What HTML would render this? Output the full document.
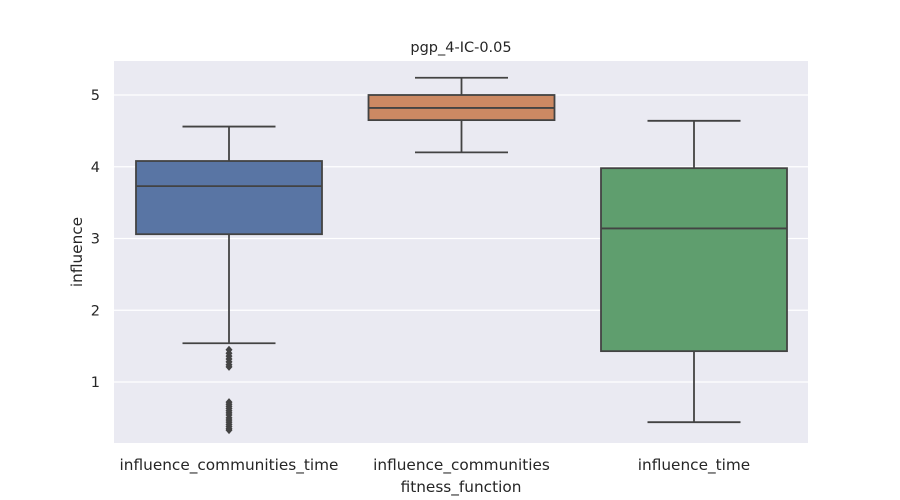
<!DOCTYPE html>
<html><head><meta charset="utf-8"><style>
body{margin:0;background:#fff;font-family:"DejaVu Sans","Liberation Sans",sans-serif;}
</style></head><body>
<svg id="chart" width="900" height="500" style="display:block;font-family:'DejaVu Sans','Liberation Sans',sans-serif">
<rect x="0" y="0" width="900" height="500" fill="#fff"/>
</svg>
<script>
const categories = ["influence_communities_time","influence_communities","influence_time"];
const whiskerLow = [1.54, 4.2, 0.44];
const q1 = [3.06, 4.65, 1.43];
const medians = [3.73, 4.82, 3.14];
const q3 = [4.08, 5.0, 3.98];
const whiskerHigh = [4.56, 5.24, 4.64];
const outliers = [[1.45,1.4,1.36,1.32,1.28,1.24,1.21,0.72,0.69,0.66,0.63,0.6,0.57,0.54,0.5,0.47,0.44,0.41,0.38,0.35,0.33],[],[]];
const yTicks = [1,2,3,4,5];
const colors = ["#5975a4","#cc8963","#5f9e6e"];

const NS="http://www.w3.org/2000/svg";
const svg=document.getElementById('chart');
const L=114,R=808,T=61,B=443;
function y(v){return 453.75-v*71.75;}
function x(i){return 229+232.5*i;}
function mk(t,a,p){const e=document.createElementNS(NS,t);for(const k in a)e.setAttribute(k,a[k]);(p||svg).appendChild(e);return e;}
const bg=mk('rect',{x:L,y:T,width:R-L,height:B-T,fill:'#eaeaf2'});


yTicks.forEach(t=>{
 const g=mk('line',{x1:L,x2:R,y1:y(t),y2:y(t),stroke:'#fff','stroke-width':1.2});
 
 
 const tx=mk('text',{x:L-14,y:y(t)+5,'text-anchor':'end','font-size':14.5,fill:'#262626'});
 tx.textContent=t;
 
 
});
const bw=186;
const lc='#434343';
categories.forEach((c,i)=>{
 const cx=x(i);
 const g=mk('g',{});
 
 
 mk('line',{x1:cx,x2:cx,y1:y(whiskerHigh[i]),y2:y(q3[i]),stroke:lc,'stroke-width':1.8},g);
 mk('line',{x1:cx,x2:cx,y1:y(q1[i]),y2:y(whiskerLow[i]),stroke:lc,'stroke-width':1.8},g);
 mk('line',{x1:cx-bw/4,x2:cx+bw/4,y1:y(whiskerHigh[i]),y2:y(whiskerHigh[i]),stroke:lc,'stroke-width':1.8},g);
 mk('line',{x1:cx-bw/4,x2:cx+bw/4,y1:y(whiskerLow[i]),y2:y(whiskerLow[i]),stroke:lc,'stroke-width':1.8},g);
 mk('rect',{x:cx-bw/2,y:y(q3[i]),width:bw,height:y(q1[i])-y(q3[i]),fill:colors[i],stroke:lc,'stroke-width':1.8},g);
 mk('line',{x1:cx-bw/2,x2:cx+bw/2,y1:y(medians[i]),y2:y(medians[i]),stroke:lc,'stroke-width':1.8},g);
 outliers[i].forEach(v=>{
  const p=mk('path',{d:`M${cx},${y(v)-4}L${cx+3.5},${y(v)}L${cx},${y(v)+4}L${cx-3.5},${y(v)}Z`,fill:lc},g);
  
  
 });
 const tx=mk('text',{x:cx,y:470,'text-anchor':'middle','font-size':15.3,fill:'#262626'});
 tx.textContent=c;
 
 
});
const t1=mk('text',{x:461,y:52,'text-anchor':'middle','font-size':14.5,fill:'#262626'});
t1.textContent='pgp_4-IC-0.05';


const t2=mk('text',{x:461,y:492,'text-anchor':'middle','font-size':15.3,fill:'#262626'});
t2.textContent='fitness_function';


const t3=mk('text',{x:82,y:252,'text-anchor':'middle','font-size':15.3,fill:'#262626',transform:'rotate(-90 82 252)'});
t3.textContent='influence';


</script>
</body></html>
